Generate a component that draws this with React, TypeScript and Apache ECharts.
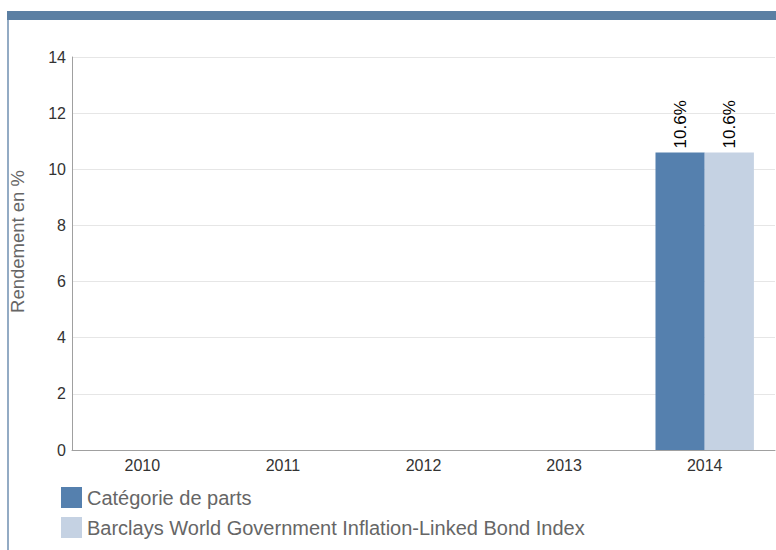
import React, { useEffect, useRef } from "react";
import * as echarts from "echarts";

const categories = ["2010", "2011", "2012", "2013", "2014"];
const seriesNames = ["Catégorie de parts", "Barclays World Government Inflation-Linked Bond Index"];
const shareClass = [null, null, null, null, 10.6];
const benchmark = [null, null, null, null, 10.6];
const yTicks = { min: 0, max: 14, interval: 2 };

export default function App() {
  const ref = useRef<HTMLDivElement>(null);
  useEffect(() => {
    if (!ref.current) return;
    const chart = echarts.init(ref.current, null, { renderer: "svg" });
    const font = "Liberation Sans, Arial, sans-serif";
    const label = {
      show: true,
      position: "top",
      rotate: 90,
      align: "left",
      verticalAlign: "middle",
      distance: 4,
      color: "#000000",
      fontSize: 17,
      formatter: (p: any) => p.value.toFixed(1) + "%",
    };
    chart.setOption({
      animation: false,
      textStyle: { fontFamily: font },
      graphic: [
        { type: "rect", shape: { x: 7, y: 11, width: 769, height: 9 }, style: { fill: "#5b7fa3" } },
        { type: "rect", shape: { x: 7, y: 20, width: 2, height: 530 }, style: { fill: "#93abc4" } },
      ],
      grid: { left: 70, right: 1, top: 57, bottom: 100, containLabel: false },
      legend: {
        orient: "vertical",
        left: 56,
        top: 482,
        itemWidth: 21,
        itemHeight: 21,
        itemGap: 9,
        icon: "rect",
        textStyle: { fontSize: 20, color: "#666666", fontFamily: font },
        data: seriesNames,
      },
      xAxis: {
        type: "category",
        data: categories,
        axisLine: { lineStyle: { color: "#a0a0a0" } },
        axisTick: { show: false },
        axisLabel: { color: "#333333", fontSize: 16, margin: 7 },
      },
      yAxis: {
        type: "value",
        min: yTicks.min,
        max: yTicks.max,
        interval: yTicks.interval,
        name: "Rendement en %",
        nameLocation: "middle",
        nameGap: 45,
        nameTextStyle: { color: "#666666", fontSize: 18.5, padding: [0, 0, 0, 24] },
        axisLine: { show: true, lineStyle: { color: "#a0a0a0" } },
        axisTick: { show: false },
        axisLabel: { color: "#333333", fontSize: 16, margin: 6 },
        splitLine: { lineStyle: { color: "#e6e6e6" } },
      },
      series: [
        {
          name: seriesNames[0],
          type: "bar",
          data: shareClass,
          itemStyle: { color: "#5580ae" },
          barGap: "0%",
          barCategoryGap: "30%",
          label,
        },
        {
          name: seriesNames[1],
          type: "bar",
          data: benchmark,
          itemStyle: { color: "#c5d2e3" },
          barGap: "0%",
          barCategoryGap: "30%",
          label,
        },
      ],
    });
    return () => chart.dispose();
  }, []);
  return (
    <div
      ref={ref}
      style={{ position: "absolute", left: 0, top: 0, width: 776, height: 550, background: "#ffffff" }}
    />
  );
}
